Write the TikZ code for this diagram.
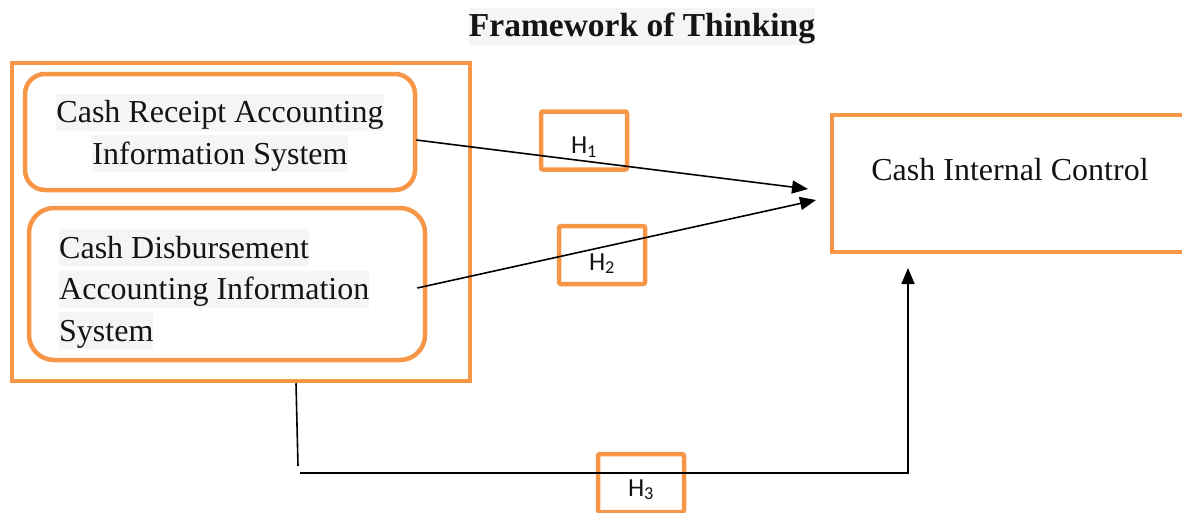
\documentclass[tikz,border=0pt]{standalone}
\usepackage{fontspec}
\setmainfont{Liberation Serif}
\newfontfamily\hfont{Carlito}
\usetikzlibrary{arrows.meta}
\definecolor{org}{HTML}{F79646}
\definecolor{hlgray}{HTML}{F5F5F5}
\definecolor{ink}{HTML}{141414}
\newcommand\hlbox[1]{{\setlength\fboxsep{0pt}\colorbox{hlgray}{\rule[-8pt]{0pt}{37pt}#1}}}
\begin{document}
\begin{tikzpicture}[x=1pt,y=-1pt,
  obox/.style={draw=org, line width=4.5pt, inner sep=0pt},
  hbox/.style={obox, rounded corners=2pt, minimum width=86pt, minimum height=58pt, font=\hfont\fontsize{26}{30}\selectfont, text=ink},
  serif/.style={font=\fontsize{32}{41.5}\selectfont, text=ink},
  link/.style={draw=black, line width=1.6pt, -{Triangle[length=16pt,width=13pt]}}]
\useasboundingbox (0,0) rectangle (1182,512);
% title
\node[serif, font=\bfseries\fontsize{33.5}{36}\selectfont, inner sep=0pt] (title) at (642,26) {\hlbox{Framework of Thinking}};
% outer box
\node[obox, minimum width=458pt, minimum height=318pt] (outer) at (241,222) {};
% inner boxes
\node[obox, rounded corners=20pt, minimum width=390pt, minimum height=116pt] (box1) at (220,132) {};
\node[serif, align=center, inner sep=0pt] (t1) at (220,133) {\hlbox{Cash Receipt Accounting}\\\hlbox{Information System}};
\node[obox, rounded corners=25pt, minimum width=396pt, minimum height=152pt] (box2) at (227,284) {};
\node[serif, align=left, inner sep=0pt, anchor=west] (t2) at (59,289) {\hlbox{Cash Disbursement}\\\hlbox{Accounting Information}\\\hlbox{System}};
% target
\node[obox, minimum width=376pt, minimum height=137pt] (ctrl) at (1020,183.5) {};
\node[serif, inner sep=0pt] (ctrltext) at (1010,170) {Cash Internal Control};
% hypothesis boxes
\node[hbox] (h1) at (584,140.5) {\smash{\raisebox{-13pt}{H\textsubscript{1}}}};
\node[hbox] (h2) at (602,255) {\smash{\raisebox{-15pt}{H\textsubscript{2}}}};
\node[hbox] (h3) at (641,483) {\smash{\raisebox{-13pt}{H\textsubscript{3}}}};
% connectors
\coordinate (tip1) at (808,189);
\coordinate (tip2) at (816,200);
\coordinate (tip3) at (908,268);
\coordinate (s1) at ([xshift=-1pt]box1.east |- 0,140);
\coordinate (s2) at ([xshift=-10pt]box2.east |- 0,288);
\draw[link] (s1) -- (tip1);
\draw[link] (s2) -- (tip2);
\draw[line width=1.6pt] (outer.south -| 296,0) -- (298,466);
\draw[link] (300,473) -- (908,473) -- (tip3);
\end{tikzpicture}
\end{document}
